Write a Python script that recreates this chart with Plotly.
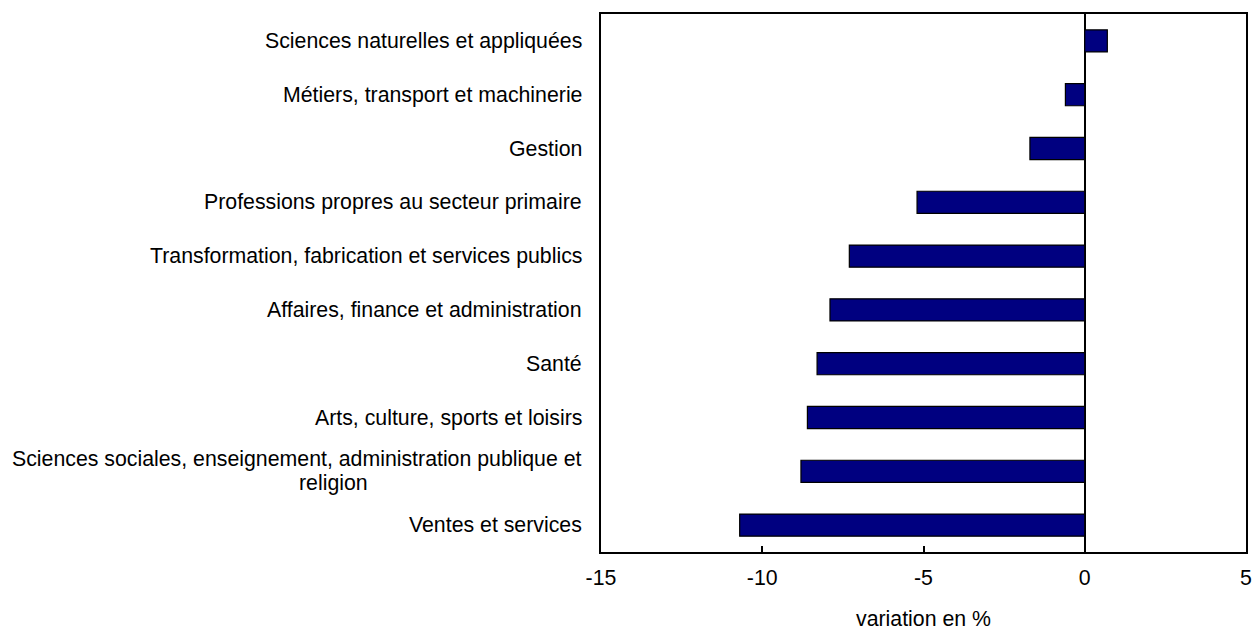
import plotly.graph_objects as go

categories = [
    "Sciences naturelles et appliquées",
    "Métiers, transport et machinerie",
    "Gestion",
    "Professions propres au secteur primaire",
    "Transformation, fabrication et services publics",
    "Affaires, finance et administration",
    "Santé",
    "Arts, culture, sports et loisirs",
    "Sciences sociales, enseignement, administration publique et<br>religion",
    "Ventes et services",
]
values = [0.7, -0.6, -1.7, -5.2, -7.3, -7.9, -8.3, -8.6, -8.8, -10.7]
x_ticks = [-15, -10, -5, 0, 5]
x_title = "variation en %"

font_family = "Liberation Sans, Arial, sans-serif"
FS = 21.3

fig = go.Figure()
fig.add_trace(go.Bar(
    x=values,
    y=categories,
    orientation="h",
    marker=dict(color="#000080", line=dict(color="black", width=1.2)),
    width=0.41,
    hoverinfo="x+y",
))

annotations = []
for c in categories:
    if "<br>" in c:
        first, second = c.split("<br>")
        annotations.append(dict(
            x=-0.026, xref="paper", y=c, yref="y", yshift=12,
            text=first, showarrow=False, xanchor="right", yanchor="middle",
            font=dict(family=font_family, size=FS, color="black"),
        ))
        annotations.append(dict(
            x=-0.4155, xref="paper", y=c, yref="y", yshift=-12,
            text=second, showarrow=False, xanchor="center", yanchor="middle",
            font=dict(family=font_family, size=FS, color="black"),
        ))
    else:
        annotations.append(dict(
            x=-0.026, xref="paper", y=c, yref="y",
            text=c, showarrow=False, xanchor="right", yanchor="middle",
            font=dict(family=font_family, size=FS, color="black"),
        ))

# axis title
annotations.append(dict(
    x=0.5, xref="paper", y=-0.124, yref="paper",
    text=x_title, showarrow=False, xanchor="center", yanchor="middle",
    font=dict(family=font_family, size=FS, color="black"),
))

fig.update_layout(
    width=1252, height=632,
    margin=dict(l=601, r=6, t=14, b=80, autoexpand=False),
    paper_bgcolor="white", plot_bgcolor="white",
    showlegend=False,
    font=dict(family=font_family, size=FS, color="black"),
    annotations=annotations,
    xaxis=dict(
        range=[-15, 5], tickvals=x_ticks, ticktext=[str(t) for t in x_ticks],
        ticks="inside", ticklen=6, tickcolor="black", tickwidth=1.5,
        ticklabeloverflow="allow", ticklabelstandoff=5, automargin=False,
        showgrid=False, zeroline=True, zerolinecolor="black", zerolinewidth=1.5,
        showline=True, linecolor="black", linewidth=2, mirror=True,
        tickfont=dict(size=FS),
    ),
    yaxis=dict(
        categoryorder="array", categoryarray=categories[::-1],
        range=[-0.5, len(categories) - 0.5],
        showticklabels=False, ticks="", automargin=False,
        showgrid=False, zeroline=False,
        showline=True, linecolor="black", linewidth=2, mirror=True,
    ),
)

fig.write_html(
    "out.html",
    config={"displayModeBar": False},
    post_script="document.body.style.margin='0';document.body.style.overflow='hidden';",
)
